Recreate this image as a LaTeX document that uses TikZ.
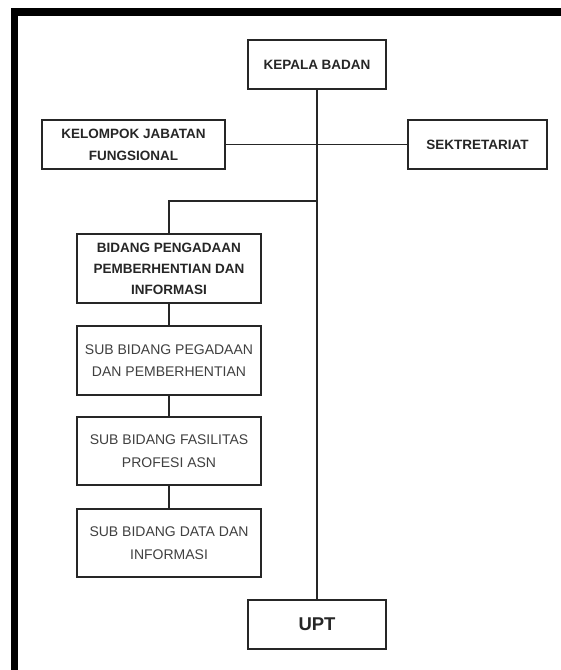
\documentclass[tikz,border=0pt]{standalone}
\usepackage{fontspec}
\setmainfont{Liberation Sans}
\usepackage{tikz}
\usepackage{xcolor}
\tikzset{
    kotak/.style={draw=black!85, line width=1.6pt, fill=white, align=center, inner sep=2pt, text=black!85},
    kotakutama/.style={kotak, font=\bfseries\fontsize{13.5}{22}\selectfont},
    kotaksub/.style={kotak, text=black!75, font=\fontsize{14}{22.5}\selectfont, minimum width=184pt, minimum height=68.5pt},
    garis/.style={draw=black!85, line width=1.6pt}
}

\begin{document}
\begin{tikzpicture}[x=1pt, y=-1pt]
                        \useasboundingbox (0, 0) rectangle (561, 670);
                        \draw[line width=7.5pt] (561, 12) -| (14.5, 670);
                        \node[kotakutama, minimum width=138pt, minimum height=49pt] (kepala) at (317, 64.5) {KEPALA BADAN};
                        \node[kotakutama, minimum width=183pt, minimum height=49pt] (kelompok) at (133.5, 144.5) {KELOMPOK JABATAN\\FUNGSIONAL};
                        \node[kotakutama, minimum width=139pt, minimum height=49pt] (sekretariat) at (477.5, 144.5) {SEKTRETARIAT};
                        \node[kotakutama, minimum width=184pt, minimum height=69pt, font=\bfseries\fontsize{13.5}{21}\selectfont] (bidang) at (169, 268.5) {BIDANG PENGADAAN\\PEMBERHENTIAN DAN\\INFORMASI};
                        \node[kotaksub] (subpengadaan) at (169, 360.5) {SUB BIDANG PEGADAAN\\DAN PEMBERHENTIAN};
                        \node[kotaksub] (subfasilitas) at (169, 451) {SUB BIDANG FASILITAS\\PROFESI ASN};
                        \node[kotaksub] (subdata) at (169, 543) {SUB BIDANG DATA DAN\\INFORMASI};
                        \node[kotakutama, minimum width=138pt, minimum height=49pt, font=\bfseries\fontsize{18.5}{22}\selectfont] (upt) at (317, 624.5) {UPT};
                        \coordinate (cabang) at (317, 201);
                        \draw[garis] (kepala.south) -- (upt.north);
                        \draw[garis] (kelompok.east) -- (sekretariat.west);
                        \draw[garis] (cabang) -| (bidang.north);
                        \draw[garis] (bidang.south) -- (subpengadaan.north);
                        \draw[garis] (subpengadaan.south) -- (subfasilitas.north);
                        \draw[garis] (subfasilitas.south) -- (subdata.north);
                    \end{tikzpicture}
\end{document}
